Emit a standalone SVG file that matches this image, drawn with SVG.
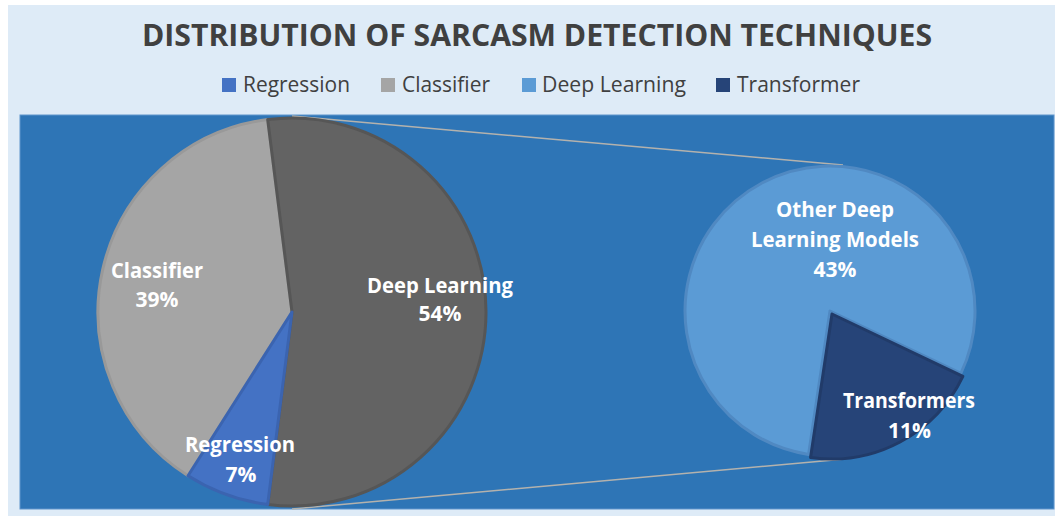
<svg xmlns="http://www.w3.org/2000/svg" width="1055" height="516" viewBox="0 0 1055 516">
<style>
.title{font-family:"Open Sans","Liberation Sans",sans-serif;font-weight:bold;font-size:30px;fill:#404040}
.leg{font-family:"Open Sans","Liberation Sans",sans-serif;font-size:21px;fill:#404040}
.lbl{font-family:"Open Sans","Liberation Sans",sans-serif;font-weight:bold;font-size:21px;fill:#ffffff;text-anchor:middle}
.conn{stroke:#b4b2ad;stroke-width:1.5;fill:none}
.sl{stroke-width:3;stroke-linejoin:round}
</style>
<rect x="0" y="0" width="1055" height="516" fill="#ffffff"/>
<rect x="8" y="5" width="1047" height="511" fill="#deebf7"/>
<rect x="20" y="115" width="1034" height="394" fill="#2e75b6" stroke="#5f95cc" stroke-width="1"/>
<text class="title" x="537" y="46" text-anchor="middle" textLength="790" lengthAdjust="spacingAndGlyphs">DISTRIBUTION OF SARCASM DETECTION TECHNIQUES</text>
<g id="legend">
<rect x="222" y="78" width="14" height="14" fill="#4472c4"/>
<text class="leg" x="243" y="92" textLength="107" lengthAdjust="spacingAndGlyphs">Regression</text>
<rect x="381" y="78" width="14" height="14" fill="#a5a5a5"/>
<text class="leg" x="402" y="92" textLength="88" lengthAdjust="spacingAndGlyphs">Classifier</text>
<rect x="522" y="78" width="14" height="14" fill="#5b9bd5"/>
<text class="leg" x="542" y="92" textLength="144" lengthAdjust="spacingAndGlyphs">Deep Learning</text>
<rect x="716" y="78" width="14" height="14" fill="#264478"/>
<text class="leg" x="737" y="92" textLength="123" lengthAdjust="spacingAndGlyphs">Transformer</text>
</g>
<g id="connectors">
<line class="conn" x1="292" y1="116" x2="843" y2="165"/>
<line class="conn" x1="292" y1="509" x2="845" y2="459"/>
</g>
<g id="classifier">
<path class="sl" d="M292,312 L188.05,475.80 A194,194 0 0 1 267.69,119.53 Z" fill="#a5a5a5" stroke="#999999"/>
<text class="lbl" x="157" y="278" textLength="92" lengthAdjust="spacingAndGlyphs">Classifier</text>
<text class="lbl" x="157" y="307">39%</text>
</g>
<g id="deep-learning">
<path class="sl" d="M292,312 L267.69,119.53 A194,194 0 1 1 267.69,504.47 Z" fill="#636363" stroke="#565656"/>
<text class="lbl" x="440" y="293" textLength="146" lengthAdjust="spacingAndGlyphs">Deep Learning</text>
<text class="lbl" x="440" y="321">54%</text>
</g>
<g id="regression">
<path class="sl" d="M292,312 L267.69,504.47 A194,194 0 0 1 188.05,475.80 Z" fill="#4472c4" stroke="#3b64b0"/>
<text class="lbl" x="240" y="452" textLength="110" lengthAdjust="spacingAndGlyphs">Regression</text>
<text class="lbl" x="241" y="482">7%</text>
</g>
<g id="other-deep-learning">
<path class="sl" d="M830,311 L808.57,454.41 A145,145 0 1 1 960.88,373.42 Z" fill="#5b9bd5" stroke="#5089c2"/>
<text class="lbl" x="835" y="217" textLength="118" lengthAdjust="spacingAndGlyphs">Other Deep</text>
<text class="lbl" x="835" y="247" textLength="168" lengthAdjust="spacingAndGlyphs">Learning Models</text>
<text class="lbl" x="835" y="277">43%</text>
</g>
<g id="transformers">
<path class="sl" d="M832,314 L962.88,376.42 A145,145 0 0 1 810.57,457.41 Z" fill="#264478" stroke="#213b69"/>
<text class="lbl" x="909" y="408" textLength="132" lengthAdjust="spacingAndGlyphs">Transformers</text>
<text class="lbl" x="909.5" y="438">11%</text>
</g>
</svg>
